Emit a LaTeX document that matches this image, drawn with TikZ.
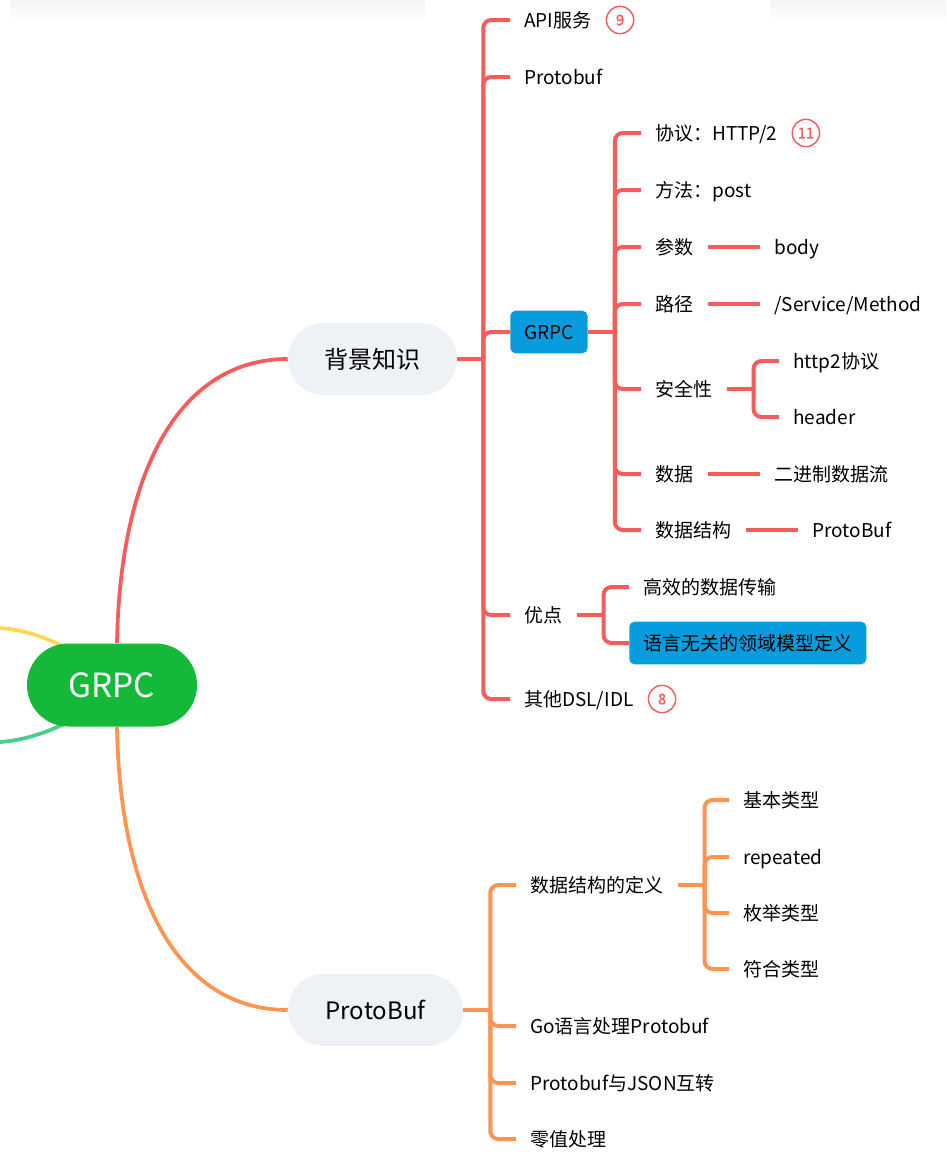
\documentclass[tikz,border=0pt]{standalone}
\usepackage{fontspec}
\setmainfont{Noto Sans CJK SC}
\newfontfamily\badgefont{Noto Sans CJK SC}[FakeBold=1.6]
\usetikzlibrary{backgrounds}
\definecolor{cred}{RGB}{246,92,92}
\definecolor{corange}{RGB}{255,148,82}
\definecolor{cgreen}{RGB}{20,185,58}
\definecolor{cblue}{RGB}{6,156,222}
\definecolor{cpill}{RGB}{238,241,245}
\definecolor{cyellow}{RGB}{255,216,80}
\definecolor{cteal}{RGB}{76,203,143}
\begin{document}
\begin{tikzpicture}[x=0.75pt,y=-0.75pt,
  every node/.style={font=\fontsize{14.25pt}{17pt}\selectfont, text height=12.4pt, text depth=1.7pt},
  txt/.style={anchor=west, inner xsep=10.5pt, inner ysep=2pt},
  bluebox/.style={anchor=west, fill=cblue, rounded corners=4pt, inner xsep=10.5pt, minimum height=32pt},
  pill/.style={fill=cpill, rounded corners=27pt, minimum height=54pt, minimum width=126.75pt, font=\fontsize{18pt}{22pt}\selectfont, text height=15.8pt, text depth=2.2pt},
  rootnode/.style={fill=cgreen, rounded corners=31pt, minimum height=62.25pt, minimum width=127.5pt, text=white, font=\fontsize{25pt}{30pt}\selectfont, text height=21.3pt, text depth=3pt},
  badge/.style={circle, draw=cred, line width=1.1pt, fill=white, minimum size=20.5pt, inner sep=0pt, anchor=west, text=cred, font=\badgefont\fontsize{11pt}{13pt}\selectfont, text height=7.9pt, text depth=0pt},
  rl/.style={draw=cred, line width=3pt, rounded corners=6pt},
  ol/.style={draw=corange, line width=3pt, rounded corners=6pt},
  curve/.style={line width=2.8pt}
]
\useasboundingbox (0,0) rectangle (946,1167);

% nodes
\node[rootnode] (root) at (112,685) {GRPC};
\node[pill] (bg) at (372.5,359) {背景知识};
\node[pill, minimum width=131.25pt] (pb) at (375.5,1010) {ProtoBuf};

\node[txt] (api) at (510,20) {API服务};
\node[badge] (b9) at (api.east) {9};
\node[txt] (pbuf) at (510,77) {Protobuf};
\node[bluebox, minimum width=57.75pt] (grpc) at (510,332) {GRPC};
\node[txt] (yd) at (510,615) {优点};
\node[txt] (dsl) at (510,699) {其他DSL/IDL};
\node[badge] (b8) at (dsl.east) {8};

\node[txt] (xy) at (641,133) {协议：HTTP/2};
\node[badge] (b11) at (xy.east) {11};
\node[txt] (ff) at (641,190) {方法：post};
\node[txt] (cs) at (641,247) {参数};
\node[txt] (lj) at (641,304) {路径};
\node[txt] (aq) at (641,389) {安全性};
\node[txt] (sj) at (641,474) {数据};
\node[txt] (sjjg) at (641,530) {数据结构};
\node[txt] (body) at (760,247) {body};
\node[txt] (path) at (760,304) {/Service/Method};
\node[txt] (h2) at (779,361) {http2协议};
\node[txt] (hdr) at (779,417) {header};
\node[txt] (ejz) at (760,474) {二进制数据流};
\node[txt] (pbx) at (798,530) {ProtoBuf};
\node[txt] (gx) at (629,587) {高效的数据传输};
\node[bluebox, minimum width=175.5pt] (yy) at (629,643) {语言无关的领域模型定义};

\node[txt] (dy) at (516,885) {数据结构的定义};
\node[txt] (go) at (516,1026) {Go语言处理Protobuf};
\node[txt] (json) at (516,1083) {Protobuf与JSON互转};
\node[txt] (lz) at (516,1139) {零值处理};
\node[txt] (jb) at (729,800) {基本类型};
\node[txt] (rep) at (729,857) {repeated};
\node[txt] (mj) at (729,913) {枚举类型};
\node[txt] (fh) at (729,969) {符合类型};

\begin{scope}[on background layer]
  \fill[white] (0,0) rectangle (946,1167);
  \shade[top color=black!4, bottom color=white] (10,0) rectangle (425,22);
  \shade[top color=black!4, bottom color=white] (770,0) rectangle (946,22);
  \coordinate (ys) at (0,628);
  \coordinate (ye) at (90,662);
  \coordinate (ts) at (0,742);
  \coordinate (te) at (90,710);
  \draw[curve, cyellow] (ys) .. controls (30,630) and (60,642) .. (ye);
  \draw[curve, cteal] (ts) .. controls (30,740) and (60,728) .. (te);
\end{scope}

% root curves
\draw[curve, cred] ([xshift=3.75pt]root.north) .. controls (120,470) and (180,359) .. (bg.west);
\draw[curve, corange] ([xshift=3.75pt]root.south) .. controls (120,900) and (180,1010) .. (pb.west);

% red brackets
\draw[rl] (bg.east) -- ++(26,0) coordinate (j1);
\foreach \c in {api,pbuf,grpc,yd,dsl} \draw[rl] (j1) |- (\c.west);
\draw[rl] (grpc.east) -- ++(27,0) coordinate (j2);
\foreach \c in {xy,ff,cs,lj,aq,sj,sjjg} \draw[rl] (j2) |- (\c.west);
\draw[rl] (cs.east) -- (body.west);
\draw[rl] (lj.east) -- (path.west);
\draw[rl] (sj.east) -- (ejz.west);
\draw[rl] (sjjg.east) -- (pbx.west);
\draw[rl] (aq.east) -- ++(27,0) coordinate (j3);
\foreach \c in {h2,hdr} \draw[rl] (j3) |- (\c.west);
\draw[rl] (yd.east) -- ++(27,0) coordinate (j4);
\foreach \c in {gx,yy} \draw[rl] (j4) |- (\c.west);

% orange brackets
\draw[ol] (pb.east) -- ++(27,0) coordinate (j5);
\foreach \c in {dy,go,json,lz} \draw[ol] (j5) |- (\c.west);
\draw[ol] (dy.east) -- ++(27,0) coordinate (j6);
\foreach \c in {jb,rep,mj,fh} \draw[ol] (j6) |- (\c.west);
\end{tikzpicture}
\end{document}
